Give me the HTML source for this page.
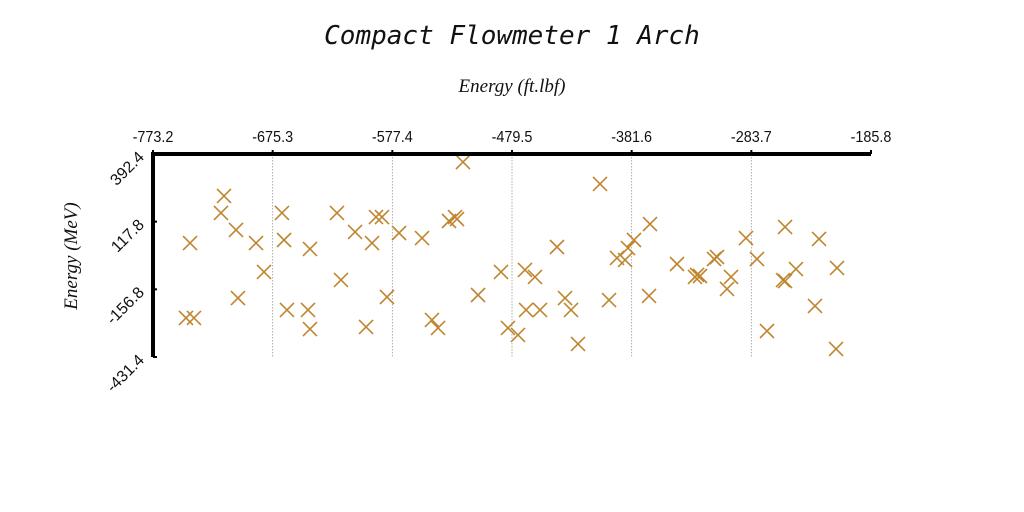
<!DOCTYPE html>
<html><head><meta charset="utf-8"><style>
html,body{margin:0;padding:0;background:#fff;width:1024px;height:512px;overflow:hidden}
</style></head><body>
<svg id="chart" width="1024" height="512" viewBox="0 0 1024 512" xmlns="http://www.w3.org/2000/svg">
<text x="512" y="44" text-anchor="middle" font-family="'DejaVu Sans Mono','Liberation Mono',monospace" font-style="italic" font-size="26" fill="#111">Compact Flowmeter 1 Arch</text>
<text x="512" y="92" text-anchor="middle" font-family="'Liberation Serif',serif" font-style="italic" font-size="19" fill="#111">Energy (ft.lbf)</text>
<text transform="translate(77,256) rotate(-90)" text-anchor="middle" font-family="'Liberation Serif',serif" font-style="italic" font-size="19" fill="#111">Energy (MeV)</text>
<g id="grid"></g>
<g id="points"></g>
<g id="axes"></g>
</svg>
<script>
const xTicks = [-773.2, -675.3, -577.4, -479.5, -381.6, -283.7, -185.8];
const yTicks = [392.4, 117.8, -156.8, -431.4];
const xValues = [-742.9,-746.2,-739.7,-715.1,-717.6,-705.3,-703.7,-688.9,-682.4,-667.7,-666.0,-663.6,-644.8,-646.4,-644.8,-622.7,-619.4,-607.9,-598.9,-594.0,-590.8,-585.9,-581.8,-571.9,-553.1,-545.0,-540.0,-531.0,-526.1,-524.5,-519.6,-507.3,-488.5,-482.8,-474.6,-468.9,-460.7,-468.0,-456.6,-442.7,-436.1,-431.2,-425.5,-407.5,-400.1,-393.6,-387.0,-384.6,-379.7,-366.6,-367.4,-344.5,-329.8,-328.1,-325.7,-314.2,-311.8,-300.3,-303.6,-288.1,-279.1,-270.9,-256.1,-257.8,-256.1,-247.2,-231.6,-228.3,-214.4,-213.6];
const yValues = [31.2,-273.1,-273.1,222.0,153.0,84.0,-192.0,31.2,-86.4,153.0,43.4,-240.6,6.9,-240.6,-317.8,153.0,-118.9,75.9,-309.6,31.2,136.7,136.7,-187.9,71.8,51.5,-281.2,-313.7,120.5,136.7,128.6,359.9,-179.8,-86.4,-313.7,-342.1,-78.3,-106.7,-240.6,-240.6,15.0,-192.0,-240.6,-378.6,270.7,-200.1,-29.6,-37.7,10.9,43.4,108.3,-183.8,-54.0,-106.7,-98.6,-102.7,-33.7,-25.6,-106.7,-155.4,51.5,-33.7,-325.9,96.2,-119.0,-123.0,-74.3,-224.4,47.5,-398.9,-70.2];
const X0=153,X1=871,Y0=154,Y1=357;
const xMin=-773.2,xMax=-185.8,yMin=-431.4,yMax=392.4;
const sx=v=>X0+(v-xMin)/(xMax-xMin)*(X1-X0);
const sy=v=>Y1-(v-yMin)/(yMax-yMin)*(Y1-Y0);
const NS='http://www.w3.org/2000/svg';
function mk(tag,attrs,parent){const e=document.createElementNS(NS,tag);for(const k in attrs)e.setAttribute(k,attrs[k]);parent.appendChild(e);return e;}
const grid=document.getElementById('grid'),pts=document.getElementById('points'),axes=document.getElementById('axes');
xTicks.forEach((t,i)=>{
  const x=sx(t);
  if(i>0&&i<xTicks.length-1){const g=mk('line',{x1:x,x2:x,y1:Y0,y2:Y1,stroke:'#999','stroke-width':0.8,'stroke-dasharray':'1.5,1.5'},grid);
  
  }
  const tk=mk('line',{x1:x,x2:x,y1:Y0-4,y2:Y0,stroke:'#000','stroke-width':2},axes);
  
  
  const lb=mk('text',{x:x,y:Y0-12,'text-anchor':'middle','font-family':"'Liberation Sans',sans-serif",'font-size':16,fill:'#111',transform:`translate(${x},0) scale(0.9,1) translate(${-x},0)`},axes);
  lb.textContent=t.toFixed(1);
  
  
});
yTicks.forEach(t=>{
  const y=sy(t);
  const tk=mk('line',{x1:X0,x2:X0+4,y1:y,y2:y,stroke:'#000','stroke-width':2},axes);
  
  
  const lb=mk('text',{x:0,y:0,'text-anchor':'end','font-family':"'Liberation Sans',sans-serif",'font-size':16,fill:'#111',transform:`translate(${X0-8},${y+4}) rotate(-45)`},axes);
  lb.textContent=t.toFixed(1);
  
  
});
const xa=mk('line',{x1:X0-1,x2:X1,y1:Y0,y2:Y0,stroke:'#000','stroke-width':4},axes);


const ya=mk('line',{x1:X0,x2:X0,y1:Y0-2,y2:Y1,stroke:'#000','stroke-width':4},axes);


xValues.forEach((v,i)=>{
  const x=sx(v),y=sy(yValues[i]),r=7;
  const p=mk('path',{d:`M${x-r},${y-r}L${x+r},${y+r}M${x+r},${y-r}L${x-r},${y+r}`,stroke:'#c0862f','stroke-width':1.6,fill:'none'},pts);
  
  
});
</script>
</body></html>
